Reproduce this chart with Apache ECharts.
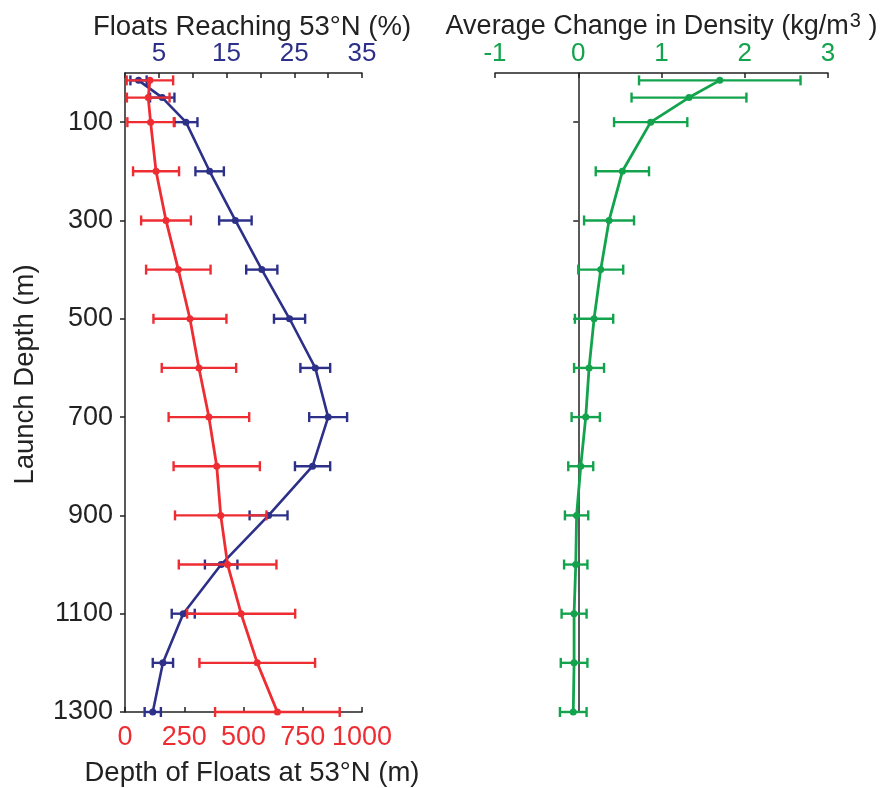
<!DOCTYPE html>
<html>
<head>
<meta charset="utf-8">
<script src="https://cdn.jsdelivr.net/npm/echarts@6/dist/echarts.min.js"></script>
<style>
  html, body { margin: 0; padding: 0; background: #fff; }
  #main { width: 884px; height: 788px; }
</style>
</head>
<body>
<div id="main"></div>
<script>
// launch depths (m)
var depths = [15, 50, 100, 200, 300, 400, 500, 600, 700, 800, 900, 1000, 1100, 1200, 1300];
// floats reaching 53N (%)
var floatsPct = [2.0, 5.5, 9.0, 12.5, 16.3, 20.2, 24.3, 28.1, 30.0, 27.7, 21.2, 14.2, 8.6, 5.6, 4.1];
var floatsPctErr = [1.2, 1.8, 1.7, 2.1, 2.4, 2.3, 2.3, 2.2, 2.8, 2.6, 2.8, 2.4, 1.7, 1.5, 1.2];
// depth of floats at 53N (m)
var floatDepth = [105, 98, 108, 131, 173, 225, 274, 312, 354, 387, 404, 433, 490, 558, 643];
var floatDepthErr = [98, 90, 98, 97, 105, 136, 154, 157, 170, 182, 193, 206, 228, 244, 263];
// average change in density (kg/m3)
var density = [1.70, 1.33, 0.87, 0.53, 0.37, 0.27, 0.19, 0.13, 0.09, 0.03, -0.02, -0.03, -0.05, -0.05, -0.06];
var densityErr = [0.97, 0.69, 0.44, 0.32, 0.30, 0.27, 0.23, 0.18, 0.17, 0.15, 0.14, 0.14, 0.15, 0.16, 0.16];

var depthTicks = [100, 300, 500, 700, 900, 1100, 1300];

var RED = '#EE2D33';
var BLUE = '#2D3088';
var GREEN = '#12A34C';
var INK = '#222';
var FONT = 'Liberation Sans';

var myChart = echarts.init(document.getElementById('main'));

function pts(xs) {
    var out = [];
    for (var i = 0; i < depths.length; i++) out.push([xs[i], depths[i]]);
    return out;
}
function bars(xs, es) {
    var out = [];
    for (var i = 0; i < depths.length; i++) out.push([xs[i] - es[i], xs[i] + es[i], depths[i]]);
    return out;
}
// horizontal error bar with end caps
function errBar(color) {
    return function(params, api) {
        var lo = api.coord([api.value(0), api.value(2)]);
        var hi = api.coord([api.value(1), api.value(2)]);
        var h = 5;
        var st = { stroke: color, lineWidth: 2.4, fill: null };
        return {
            type: 'group',
            children: [
                { type: 'line', shape: { x1: lo[0], y1: lo[1], x2: hi[0], y2: hi[1] }, style: st },
                { type: 'line', shape: { x1: lo[0], y1: lo[1] - h, x2: lo[0], y2: lo[1] + h }, style: st },
                { type: 'line', shape: { x1: hi[0], y1: hi[1] - h, x2: hi[0], y2: hi[1] + h }, style: st }
            ]
        };
    };
}
function plain(v) { return String(v); }

var axisLine = { onZero: false, lineStyle: { color: INK, width: 1.5 } };
var inTick = { inside: true, length: 5, lineStyle: { color: INK, width: 1.5 } };

var option = {
    animation: false,
    textStyle: { fontFamily: FONT },
    grid: [
        { left: 125, top: 73, width: 237, height: 639, outerBoundsMode: 'none', containLabel: false },
        { left: 495, top: 73, width: 333, height: 639, outerBoundsMode: 'none', containLabel: false }
    ],
    xAxis: [
        {
            gridIndex: 0, type: 'value', position: 'bottom', min: 0, max: 1000, interval: 250,
            axisLine: axisLine, axisTick: inTick, splitLine: { show: false },
            axisLabel: { color: RED, fontSize: 27, margin: 12, formatter: plain },
            name: 'Depth of Floats at 53°N (m)', nameLocation: 'middle', nameGap: 47,
            nameTextStyle: { color: INK, fontSize: 27.5, padding: [0, 0, 0, 17] }
        },
        {
            gridIndex: 0, type: 'value', position: 'top', min: 0, max: 35, interval: 5,
            axisLine: axisLine, axisTick: inTick, splitLine: { show: false },
            axisLabel: {
                color: BLUE, fontSize: 26, margin: 6,
                formatter: function(v) { return v % 10 === 5 ? String(v) : ''; }
            },
            name: 'Floats Reaching 53°N (%)', nameLocation: 'middle', nameGap: 32, nameMoveOverlap: false,
            nameTextStyle: { color: INK, fontSize: 27.5, padding: [0, 0, 0, 17] }
        },
        {
            gridIndex: 1, type: 'value', position: 'top', min: -1, max: 3, interval: 1,
            axisLine: axisLine, axisTick: inTick, splitLine: { show: false },
            axisLabel: { color: GREEN, fontSize: 26, margin: 6, formatter: plain },
            name: '{t|Average Change in Density (kg/m}{s|3}{t| )}', nameLocation: 'middle', nameGap: 30, nameMoveOverlap: false,
            nameTextStyle: {
                rich: {
                    t: { color: INK, fontSize: 27, fontFamily: FONT },
                    s: { color: INK, fontSize: 20, fontFamily: FONT, verticalAlign: 'bottom', padding: [0, 0, 12, 1] }
                }
            }
        }
    ],
    yAxis: [
        {
            gridIndex: 0, type: 'value', inverse: true, min: 0, max: 1300,
            axisLine: axisLine, splitLine: { show: false },
            axisTick: { customValues: depthTicks, length: 5, lineStyle: { color: INK, width: 1.5 } },
            axisLabel: { customValues: depthTicks, color: INK, fontSize: 27, margin: 12, formatter: plain },
            name: 'Launch Depth (m)', nameLocation: 'middle', nameGap: 86,
            nameTextStyle: { color: INK, fontSize: 27.5, padding: [0, 0, 0, 36] }
        },
        {
            gridIndex: 1, type: 'value', inverse: true, min: 0, max: 1300,
            axisLine: { onZero: true, onZeroAxisIndex: 2, lineStyle: { color: INK, width: 1.5 } },
            splitLine: { show: false },
            axisTick: { customValues: depthTicks, length: 5, lineStyle: { color: INK, width: 1.5 } },
            axisLabel: { show: false }
        }
    ],
    series: [
        {
            type: 'custom', xAxisIndex: 1, yAxisIndex: 0, renderItem: errBar(BLUE),
            encode: { x: [0, 1], y: 2 }, data: bars(floatsPct, floatsPctErr), clip: false, z: 2
        },
        {
            type: 'line', xAxisIndex: 1, yAxisIndex: 0, data: pts(floatsPct),
            symbol: 'circle', symbolSize: 7, itemStyle: { color: BLUE },
            lineStyle: { color: BLUE, width: 2.6 }, z: 3
        },
        {
            type: 'custom', xAxisIndex: 0, yAxisIndex: 0, renderItem: errBar(RED),
            encode: { x: [0, 1], y: 2 }, data: bars(floatDepth, floatDepthErr), clip: false, z: 4
        },
        {
            type: 'line', xAxisIndex: 0, yAxisIndex: 0, data: pts(floatDepth),
            symbol: 'circle', symbolSize: 7, itemStyle: { color: RED },
            lineStyle: { color: RED, width: 2.8 }, z: 5
        },
        {
            type: 'custom', xAxisIndex: 2, yAxisIndex: 1, renderItem: errBar(GREEN),
            encode: { x: [0, 1], y: 2 }, data: bars(density, densityErr), clip: false, z: 4
        },
        {
            type: 'line', xAxisIndex: 2, yAxisIndex: 1, data: pts(density),
            symbol: 'circle', symbolSize: 7, itemStyle: { color: GREEN },
            lineStyle: { color: GREEN, width: 2.8 }, z: 5
        }
    ]
};

myChart.setOption(option);
</script>
</body>
</html>
